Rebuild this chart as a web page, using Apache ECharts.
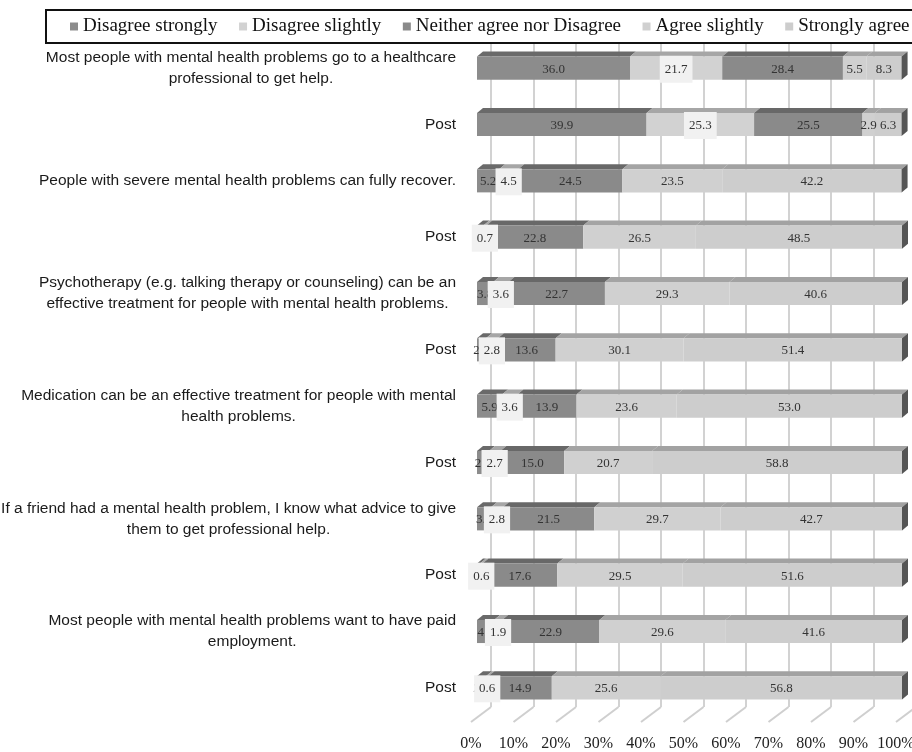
<!DOCTYPE html>
<html>
<head>
<meta charset="utf-8">
<script src="https://cdn.jsdelivr.net/npm/echarts@6.0.0/dist/echarts.min.js"></script>
<style>
  html, body { margin: 0; padding: 0; background: #fff; }
  #main { width: 912px; height: 752px; }
</style>
</head>
<body>
<div id="main"></div>
<script>
// categories, top to bottom
var categories = [
    'Most people with mental health problems go to a healthcare\nprofessional to get help.',
    'Post',
    'People with severe mental health problems can fully recover.',
    'Post',
    'Psychotherapy (e.g. talking therapy or counseling) can be an\neffective treatment for people with mental health problems.',
    'Post',
    'Medication can be an effective treatment for people with mental\nhealth problems.',
    'Post',
    'If a friend had a mental health problem, I know what advice to give\nthem to get professional help.',
    'Post',
    'Most people with mental health problems want to have paid\nemployment.',
    'Post'
];
var seriesNames = ['Disagree strongly', 'Disagree slightly', 'Neither agree nor Disagree', 'Agree slightly', 'Strongly agree'];
var disagreeStrongly = [36.0, 39.9, 5.2, 1.5, 3.8, 2.1, 5.9, 2.8, 3.3, 0.7, 4.0, 2.1];
var disagreeSlightly = [21.7, 25.3, 4.5, 0.7, 3.6, 2.8, 3.6, 2.7, 2.8, 0.6, 1.9, 0.6];
var neither          = [28.4, 25.5, 24.5, 22.8, 22.7, 13.6, 13.9, 15.0, 21.5, 17.6, 22.9, 14.9];
var agreeSlightly    = [5.5, 2.9, 23.5, 26.5, 29.3, 30.1, 23.6, 20.7, 29.7, 29.5, 29.6, 25.6];
var stronglyAgree    = [8.3, 6.3, 42.2, 48.5, 40.6, 51.4, 53.0, 58.8, 42.7, 51.6, 41.6, 56.8];
var tickValues = [0, 10, 20, 30, 40, 50, 60, 70, 80, 90, 100];

var allValues = [disagreeStrongly, disagreeSlightly, neither, agreeSlightly, stronglyAgree];
// front / top face colours
var faces = [
    { front: '#8c8c8c', top: '#6a6a6a' },
    { front: '#d2d2d2', top: '#a6a6a6' },
    { front: '#8a8a8a', top: '#686868' },
    { front: '#d0d0d0', top: '#a4a4a4' },
    { front: '#cdcdcd', top: '#a2a2a2' }
];
var DX = 6, DY = 5;

var myChart = echarts.init(document.getElementById('main'));

// stack the segments row by row
var starts = categories.map(function () { return 0; });
var segData = allValues.map(function (vals) {
    return vals.map(function (v, row) {
        var s = starts[row];
        starts[row] = s + v;
        return [s, s + v, row, v];
    });
});

function makeRender(idx) {
    return function (params, api) {
        var s = api.value(0), e = api.value(1), row = api.value(2), v = api.value(3);
        var p0 = api.coord([s, row]);
        var p1 = api.coord([e, row]);
        var h = api.size([0, 1])[1] * 0.41;
        var x0 = p0[0], x1 = p1[0], yT = p0[1] - h / 2, yB = p0[1] + h / 2;
        var f = faces[idx];
        var children = [
            { type: 'polygon', shape: { points: [[x0, yT], [x1, yT], [x1 + DX, yT - DY], [x0 + DX, yT - DY]] },
              style: { fill: f.top } },
            { type: 'rect', shape: { x: x0, y: yT, width: x1 - x0, height: h }, style: { fill: f.front } }
        ];
        if (idx === allValues.length - 1) {
            children.push({ type: 'polygon',
                shape: { points: [[x1, yT], [x1 + DX, yT - DY], [x1 + DX, yB - DY], [x1, yB]] },
                style: { fill: '#555555' } });
        }
        var box = idx === 1;
        // labels sit above every bar, later series on top
        children.push({
            type: 'text',
            z2: 100 + idx,
            style: {
                x: (x0 + x1) / 2, y: p0[1] + 1,
                text: v.toFixed(1),
                fill: '#333',
                font: '13px "Liberation Serif"',
                align: 'center', verticalAlign: 'middle',
                backgroundColor: box ? '#f1f1f1' : null,
                padding: box ? [7, 5, 7, 5] : 0
            }
        });
        return { type: 'group', children: children };
    };
}

var series = seriesNames.map(function (name, idx) {
    return {
        name: name,
        type: 'custom',
        xAxisIndex: 0,
        yAxisIndex: 0,
        itemStyle: { color: faces[idx].front },
        renderItem: makeRender(idx),
        encode: { x: [0, 1], y: 2 },
        data: segData[idx]
    };
});

// diagonal floor ticks
series.push({
    type: 'custom',
    xAxisIndex: 1,
    yAxisIndex: 1,
    silent: true,
    renderItem: function (params, api) {
        var p = api.coord([api.value(0), 0]);
        return { type: 'line', shape: { x1: p[0], y1: p[1], x2: p[0] - 20, y2: p[1] + 15 },
                 style: { stroke: '#cfcfcf', lineWidth: 2 } };
    },
    data: tickValues.map(function (t) { return [t]; })
});

option = {
    animation: false,
    backgroundColor: '#FFFFFF',
    legend: {
        data: seriesNames,
        left: 70,
        top: 17,
        padding: 0,
        icon: 'rect',
        itemWidth: 8,
        itemHeight: 8,
        itemGap: 21.5,
        textStyle: { fontFamily: 'Liberation Serif', fontSize: 19, color: '#111' }
    },
    graphic: [{
        type: 'rect',
        shape: { x: 46, y: 10, width: 900, height: 33 },
        style: { fill: null, stroke: '#111', lineWidth: 2 },
        z: 100
    }],
    grid: [
        { left: 477, right: 10, top: 40, bottom: 36, containLabel: false, outerBoundsMode: 'none' },
        { left: 491, width: 425, top: 43, bottom: 45, containLabel: false, outerBoundsMode: 'none' }
    ],
    xAxis: [
        {
            type: 'value', gridIndex: 0, min: 0, max: 100, interval: 10,
            axisLine: { show: false }, axisTick: { show: false }, splitLine: { show: false },
            axisLabel: {
                formatter: '{value}%', margin: 20, padding: [0, 12, 0, 0],
                fontFamily: 'Liberation Serif', fontSize: 16, color: '#222'
            }
        },
        {
            type: 'value', gridIndex: 1, min: 0, max: 100, interval: 10,
            axisLine: { show: false }, axisTick: { show: false }, axisLabel: { show: false },
            splitLine: { show: true, showMaxLine: false, lineStyle: { color: '#d2d2d2', width: 2 } }
        }
    ],
    yAxis: [
        {
            type: 'category', gridIndex: 0, inverse: true, data: categories,
            axisLine: { show: false }, axisTick: { show: false },
            axisLabel: {
                margin: 21,
                formatter: function (val) {
                    return val.split('\n').map(function (l) { return '{c|' + l + '}'; }).join('\n');
                },
                rich: {
                    c: { align: 'center', fontFamily: 'Liberation Sans', fontSize: 15.5, color: '#1a1a1a', lineHeight: 21 }
                }
            }
        },
        { type: 'value', gridIndex: 1, min: 0, max: 1, show: false }
    ],
    series: series
};
myChart.setOption(option);
</script>
</body>
</html>
